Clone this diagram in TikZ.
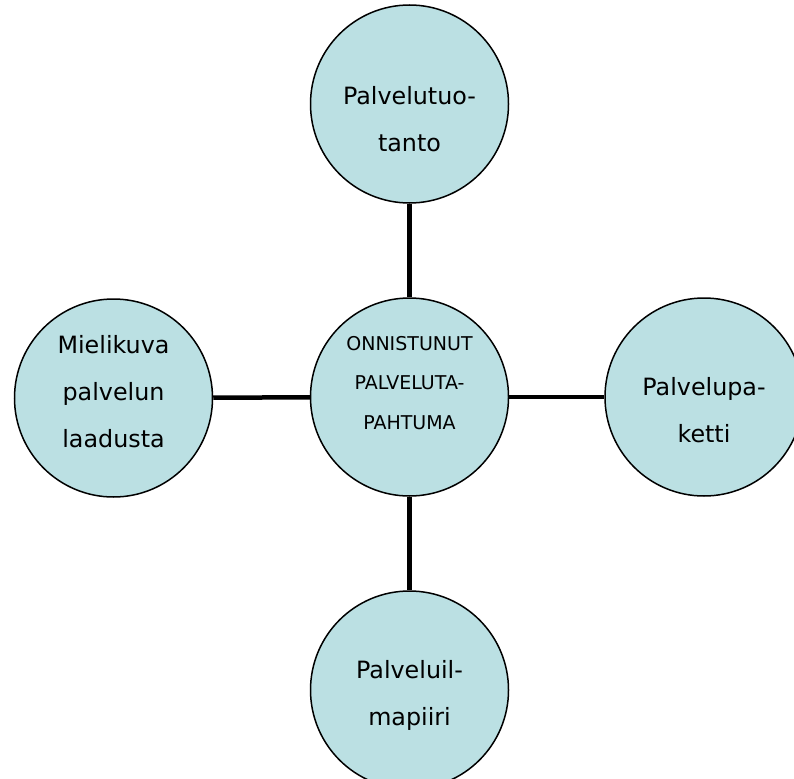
\documentclass[tikz,border=0pt]{standalone}
\usepackage{fontspec}
\setmainfont{DejaVu Sans}
\definecolor{bub}{RGB}{187,224,227}
\tikzset{
  bubble/.style={circle, draw=black, line width=1.5pt, fill=bub, minimum size=198pt, inner sep=0pt},
  link/.style={line width=4.5pt, draw=black},
  outer/.style={align=center, anchor=base, inner sep=0pt, font=\fontsize{23.8}{47}\selectfont},
  inner/.style={align=center, anchor=base, inner sep=0pt, font=\fontsize{19}{39.5}\selectfont}
}
\begin{document}
\begin{tikzpicture}[x=1pt,y=-1pt]
\useasboundingbox[fill=white] (0,0) rectangle (794,778);
\node[bubble] (top) at (409.5,104) {};
\node[bubble] (mid) at (409.5,397) {};
\node[bubble] (lft) at (113.5,398) {};
\node[bubble] (rgt) at (704,397) {};
\node[bubble] (bot) at (409.5,690) {};
\draw[link] (top) -- (mid);
\draw[link] (lft) -- (mid);
\draw[link] (mid) -- (rgt);
\draw[link] (mid) -- (bot);
\node[outer] (ttop) at (409.5,152) {Palvelutuo-\\tanto};
\node[inner] (tmid) at (409.5,429) {ONNISTUNUT\\PALVELUTA-\\PAHTUMA};
\node[outer] (tlft) at (113.5,447) {Mielikuva\\palvelun\\laadusta};
\node[outer] (trgt) at (704,442) {Palvelupa-\\ketti};
\node[outer] (tbot) at (409.5,725) {Palveluil-\\mapiiri};
\end{tikzpicture}
\end{document}
